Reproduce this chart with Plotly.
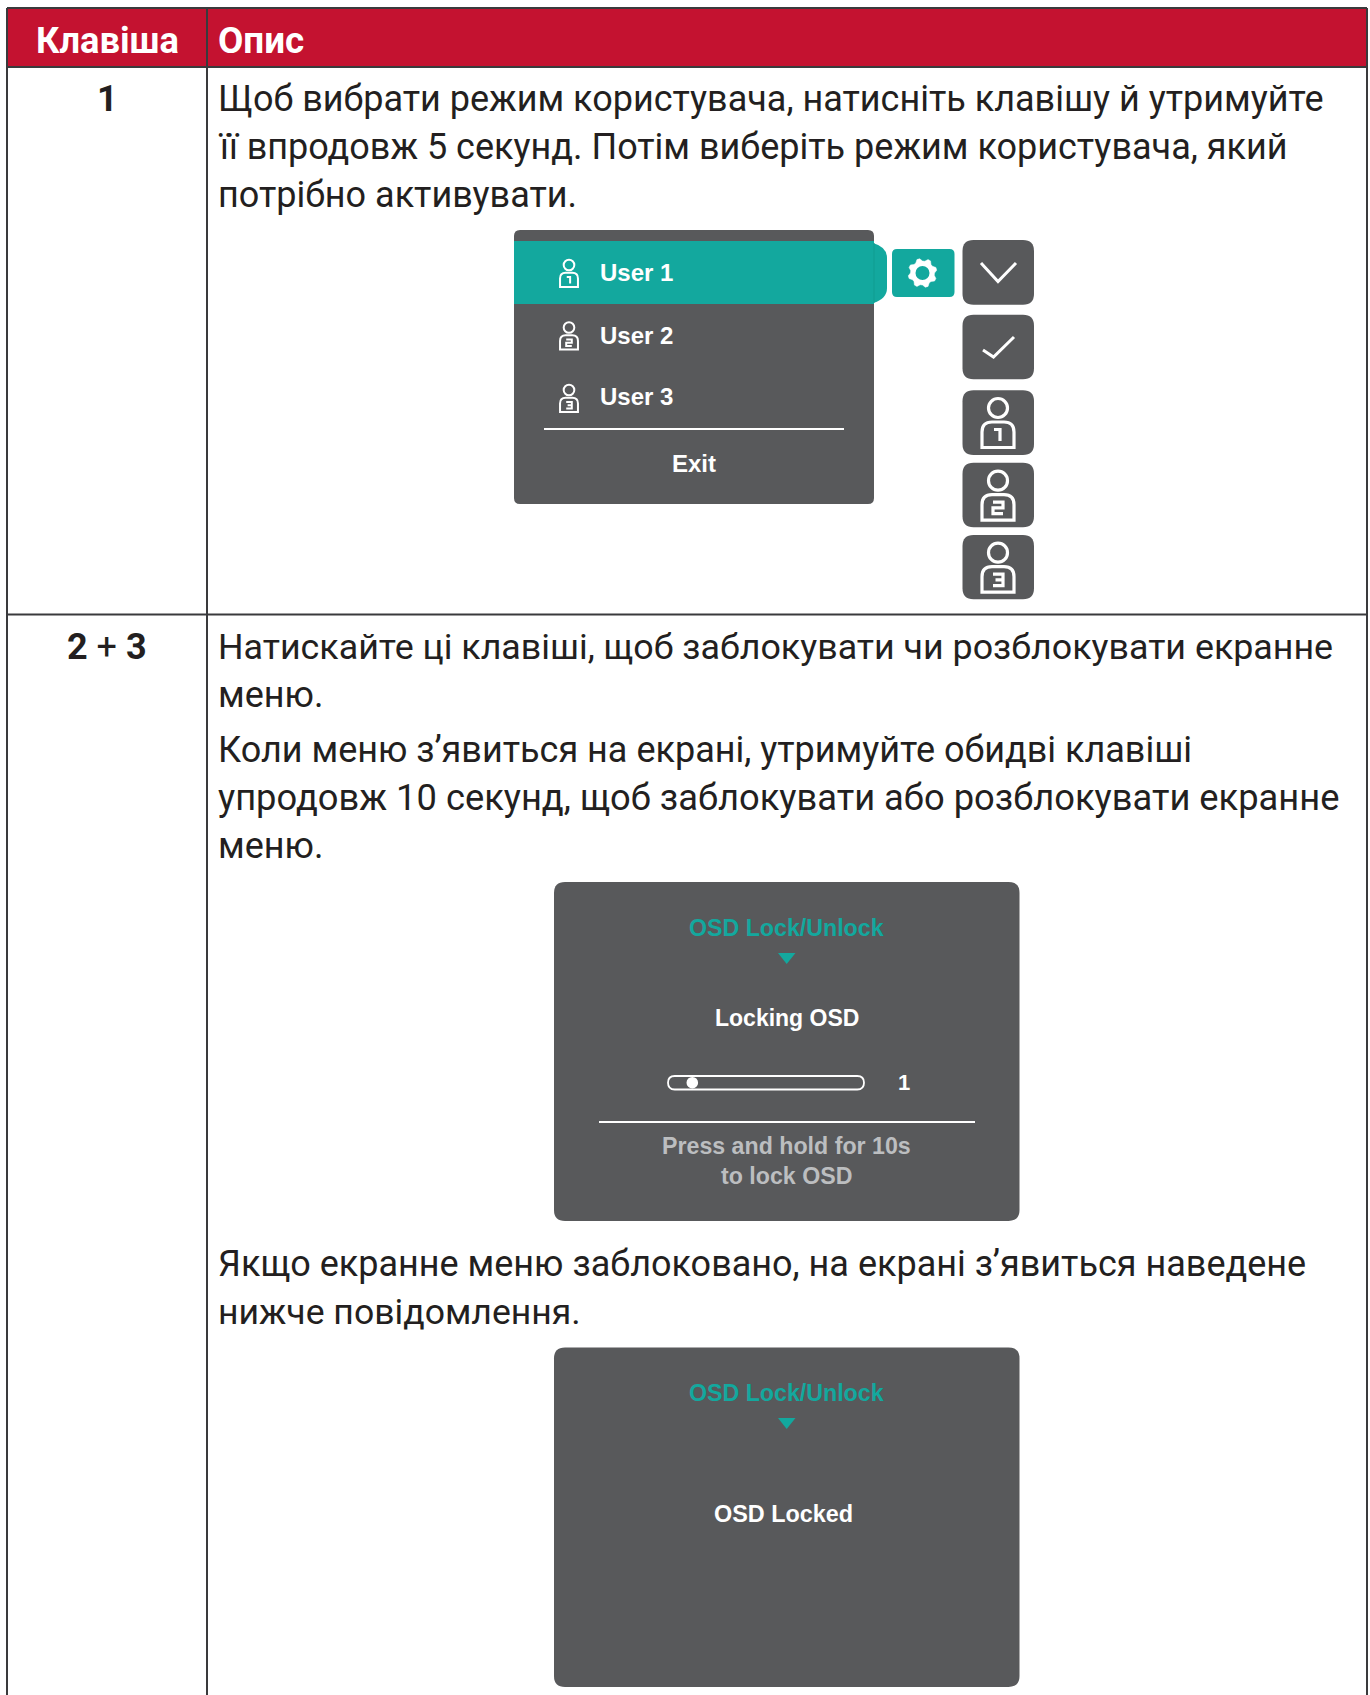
import math
import plotly.graph_objects as go

# ---- content ----
header_key = "Клавіша"
header_desc = "Опис"
key_labels = ["<b>1</b>", "<b>2</b> + <b>3</b>"]
desc_lines_row1 = [
    "Щоб вибрати режим користувача, натисніть клавішу й утримуйте",
    "її впродовж 5 секунд. Потім виберіть режим користувача, який",
    "потрібно активувати.",
]
desc_lines_row2 = [
    "Натискайте ці клавіші, щоб заблокувати чи розблокувати екранне",
    "меню.",
    "Коли меню з’явиться на екрані, утримуйте обидві клавіші",
    "упродовж 10 секунд, щоб заблокувати або розблокувати екранне",
    "меню.",
    "Якщо екранне меню заблоковано, на екрані з’явиться наведене",
    "нижче повідомлення.",
]
menu_items = ["User 1", "User 2", "User 3"]
menu_exit = "Exit"
osd_title = "OSD Lock/Unlock"
osd_locking = "Locking OSD"
osd_count = "1"
osd_hint = ["Press and hold for 10s", "to lock OSD"]
osd_locked = "OSD Locked"

# ---- style ----
RED = "#C41230"
INK = "#231F20"
GRID = "#3A3A3C"
PANEL = "#58595B"
TEAL = "#13A89E"
HINT = "#BCBEC0"
BODY_FONT = "Roboto"
OSD_FONT = "Liberation Sans"
BODY_SIZE = 36
ROW2_SIZES = [35.8, 36, 36, 36.3, 36, 36, 35.6]

shapes = []
annotations = []


def rrect(x0, y0, x1, y1, r, fill, line=None, lw=0):
    p = (f"M {x0+r} {y0} L {x1-r} {y0} Q {x1} {y0} {x1} {y0+r} L {x1} {y1-r} Q {x1} {y1} {x1-r} {y1} "
         f"L {x0+r} {y1} Q {x0} {y1} {x0} {y1-r} L {x0} {y0+r} Q {x0} {y0} {x0+r} {y0} Z")
    shapes.append(dict(type="path", path=p, fillcolor=fill, layer="above",
                       line=dict(color=line or fill, width=lw)))


def rect(x0, y0, x1, y1, fill):
    shapes.append(dict(type="rect", x0=x0, y0=y0, x1=x1, y1=y1, fillcolor=fill,
                       line=dict(width=0), layer="above"))


def seg(x0, y0, x1, y1, color, w):
    shapes.append(dict(type="line", x0=x0, y0=y0, x1=x1, y1=y1, layer="above",
                       line=dict(color=color, width=w)))


def poly(pts, color, w, fill=None, closed=False):
    p = "M " + " L ".join(f"{x} {y}" for x, y in pts) + (" Z" if closed else "")
    shapes.append(dict(type="path", path=p, layer="above",
                       fillcolor=fill if fill else "rgba(0,0,0,0)",
                       line=dict(color=color, width=w)))


def circle(cx, cy, r, fill, line, w):
    shapes.append(dict(type="circle", x0=cx-r, y0=cy-r, x1=cx+r, y1=cy+r, layer="above",
                       fillcolor=fill, line=dict(color=line, width=w)))


def text(x, y, s, size, color, font, anchor="left", weight=400):
    annotations.append(dict(x=x, y=y, text=s, showarrow=False, xanchor=anchor, yanchor="middle",
                            align=anchor, borderpad=0,
                            font=dict(size=size, color=color, family=font, weight=weight)))


DIGITS = {
    1: [(0.1, 0), (0.7, 0), (0.7, 1)],
    2: [(0, 0), (1, 0), (1, 0.5), (0, 0.5), (0, 1), (1, 1)],
    3: [(0, 0), (1, 0), (1, 0.5), (0.25, 0.5), (1, 0.5), (1, 1), (0, 1)],
}


def user_icon(cx, top, k, scale, lw):
    head_r = 9.5 * scale
    circle(cx, top, head_r, "rgba(0,0,0,0)", "white", lw)
    bt = top + 14 * scale
    bb = top + 39.5 * scale
    hw = 16 * scale
    r = 10 * scale
    p = (f"M {cx-hw} {bb} L {cx-hw} {bt+r} Q {cx-hw} {bt} {cx-hw+r} {bt} L {cx+hw-r} {bt} "
         f"Q {cx+hw} {bt} {cx+hw} {bt+r} L {cx+hw} {bb} Z")
    shapes.append(dict(type="path", path=p, layer="above", fillcolor="rgba(0,0,0,0)",
                       line=dict(color="white", width=lw)))
    dw = 10 * scale
    dh = 11.5 * scale
    dx = cx - dw / 2
    dy = bt + 7.5 * scale
    poly([(dx + a * dw, dy + b * dh) for a, b in DIGITS[k]], "white", lw)


# ---- table frame ----
rect(7, 8, 1367, 67, RED)
for x in (7, 207, 1367):
    seg(x, 8, x, 1695, GRID, 2)
for y in (8, 67, 614.5):
    seg(7, y, 1367, y, GRID, 2)

text(107, 40, header_key, 36.3, "white", BODY_FONT, "center", 700)
text(216.5, 40, header_desc, 36.8, "white", BODY_FONT, "left", 700)
text(107, 98.5, key_labels[0], BODY_SIZE, INK, BODY_FONT, "center")
text(107, 646.5, key_labels[1], BODY_SIZE, INK, BODY_FONT, "center")

row1_y = [98.5, 146.5, 194.5]
row2_y = [646.5, 694.5, 749.5, 797.5, 845.5, 1263.5, 1311.5]
for s, y in zip(desc_lines_row1, row1_y):
    text(216.5, y, s, BODY_SIZE, INK, BODY_FONT)
for s, y, sz in zip(desc_lines_row2, row2_y, ROW2_SIZES):
    text(216.5, y, s, sz, INK, BODY_FONT)

# ---- user menu ----
rrect(514, 230, 874, 504, 6, PANEL)
rect(514, 241, 874, 304, TEAL)
shapes.append(dict(type="path", layer="above", fillcolor=TEAL, line=dict(width=0),
                   path="M 873 243 Q 887 247 887 258 L 887 288 Q 887 299 873 303 Z"))
seg(874, 243, 874, 303, "#119C90", 1)
rrect(892, 249, 954.5, 297, 5, TEAL)

# gear
gc = (922.5, 273)
pts = []
teeth = 8
for i in range(teeth * 4):
    a = 2 * math.pi * i / (teeth * 4) + math.pi / 8
    rr = 14.5 if i % 4 in (0, 1) else 12
    pts.append((gc[0] + rr * math.cos(a), gc[1] + rr * math.sin(a)))
poly(pts, "white", 0.5, "white", True)
circle(gc[0], gc[1], 7, TEAL, TEAL, 0)

menu_y = [272, 335, 396.5]
icon_y = [265, 327.5, 390]
for i, (s, ty, iy) in enumerate(zip(menu_items, menu_y, icon_y)):
    text(599, ty, s, 24, "white", OSD_FONT, "left", 700)
    user_icon(569, iy, i + 1, 0.56, 2)
seg(544, 429, 844, 429, "white", 1.8)
text(694, 463, menu_exit, 24, "white", OSD_FONT, "center", 700)

# ---- side buttons ----
btn_y = [(240, 304.7), (314.7, 379.3), (390.3, 455), (462.7, 527.3), (535, 599.3)]
for y0, y1 in btn_y:
    rrect(962.5, y0, 1034, y1, 11, PANEL)
poly([(981, 263), (998, 281.5), (1016, 263)], "white", 3)
poly([(983, 350), (993.5, 357), (1014, 337)], "white", 3)
for k, top in zip((1, 2, 3), (408, 480.7, 552.7)):
    user_icon(998, top, k, 1.0, 3.2)


# ---- OSD panels ----
def osd_panel(y0, y1, title_y, tri_y):
    rrect(554, y0, 1019.5, y1, 11, PANEL)
    text(786.7, title_y, osd_title, 23.2, TEAL, OSD_FONT, "center", 700)
    poly([(778, tri_y), (795.5, tri_y), (786.7, tri_y + 11)], TEAL, 0, TEAL, True)


osd_panel(882, 1221, 928, 953)
text(786.7, 1017.8, osd_locking, 23, "white", OSD_FONT, "center", 700)
rrect(668, 1076, 864, 1089.5, 6.7, "rgba(0,0,0,0)", "white", 1.8)
circle(692.3, 1082.7, 5.8, "white", "white", 0)
text(904, 1082.5, osd_count, 22, "white", OSD_FONT, "center", 700)
seg(599, 1122, 975, 1122, "white", 1.8)
text(786.7, 1146, osd_hint[0], 23.2, HINT, OSD_FONT, "center", 700)
text(786.7, 1176, osd_hint[1], 23.2, HINT, OSD_FONT, "center", 700)

osd_panel(1347.5, 1687, 1392.5, 1418)
text(783.3, 1513.5, osd_locked, 23.4, "white", OSD_FONT, "center", 700)

fig = go.Figure()
fig.update_layout(
    width=1370, height=1695, margin=dict(l=0, r=0, t=0, b=0),
    paper_bgcolor="white", plot_bgcolor="white", showlegend=False,
    xaxis=dict(range=[0, 1370], visible=False, fixedrange=True),
    yaxis=dict(range=[1695, 0], visible=False, fixedrange=True),
    shapes=shapes, annotations=annotations,
)
fig.write_html("out.html", post_script="document.body.style.margin='0';document.body.style.overflow='hidden';",
               config=dict(displayModeBar=False))
